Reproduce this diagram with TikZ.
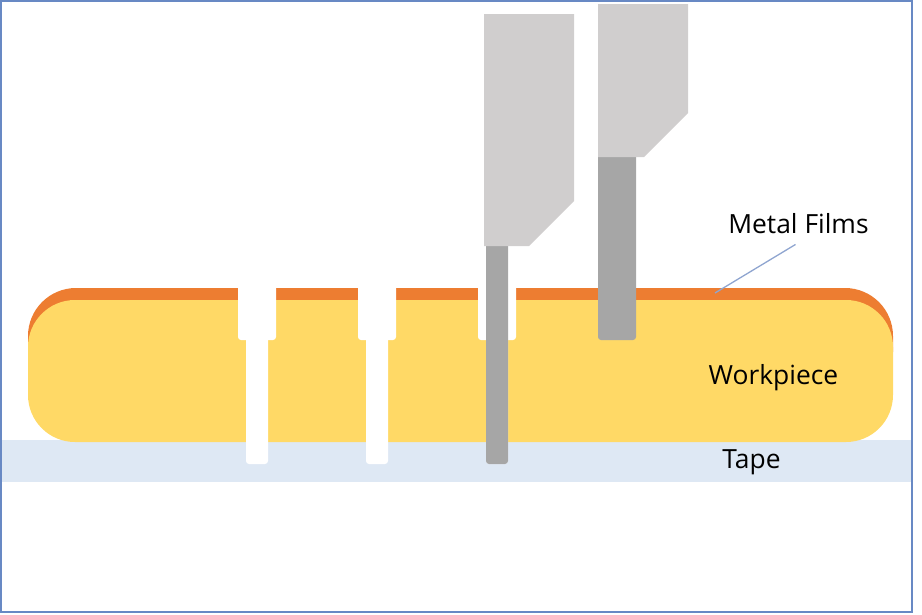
\documentclass[tikz,border=0pt]{standalone}
\usepackage{fontspec}
\setmainfont{Open Sans}
\definecolor{frameblue}{RGB}{104, 137, 196}
\definecolor{tapeblue}{RGB}{222, 232, 244}
\definecolor{filmorange}{RGB}{237, 125, 49}
\definecolor{workyellow}{RGB}{255, 217, 102}
\definecolor{holdergray}{RGB}{208, 206, 206}
\definecolor{bladegray}{RGB}{166, 166, 166}
\definecolor{leaderblue}{RGB}{143, 165, 208}
\usetikzlibrary{positioning}

\begin{document}
\begin{tikzpicture}[x=1pt, y=-1pt, font=\fontsize{26.4}{30}\selectfont,
  label text/.style={inner sep=0pt, text=black, anchor=base},
  slot/.style={fill=white, rounded corners=3pt},
  blade/.style={fill=bladegray, rounded corners=3pt},
  holder/.style={fill=holdergray}]
  \useasboundingbox (0,0) rectangle (922,614);
  % tape and workpiece
  \fill[tapeblue] (2,440) rectangle (911,482);
  \fill[filmorange, rounded corners=48pt] (28,400) -- (28,288) -- (893,288) -- (893,400) -- cycle;
  \fill[workyellow, rounded corners=47pt] (28,442) -- (28,300) -- (893,300) -- (893,442) -- cycle;
  % cut slots
  \foreach \xs in {238, 358, 478} {
    \fill[slot] (\xs,284) rectangle (\xs+38,340);
    \fill[slot] (\xs+8,330) rectangle (\xs+30,464);
  }
  % blades
  \fill[blade] (486,240) rectangle (508,464);
  \fill[blade] (598,150) rectangle (636,340);
  \fill[holder] (484,14) -- (574,14) -- (574,201) -- (529,246) -- (484,246) -- cycle;
  \fill[holder] (598,4) -- (688,4) -- (688,113) -- (644,157) -- (598,157) -- cycle;
  % labels
  \node[label text] (films) at (798.5,233) {Metal Films};
  \node[label text] (work) at (773.5,384) {Workpiece};
  \node[label text] (tape) at (751.5,468) {Tape};
  \coordinate (filmend) at (715,293);
  \draw[leaderblue, line width=1.3pt] (films.south) ++(-3,11) -- (filmend);
  \draw[frameblue, line width=1.5pt] (1,1) rectangle (912,612);
\end{tikzpicture}
\end{document}
